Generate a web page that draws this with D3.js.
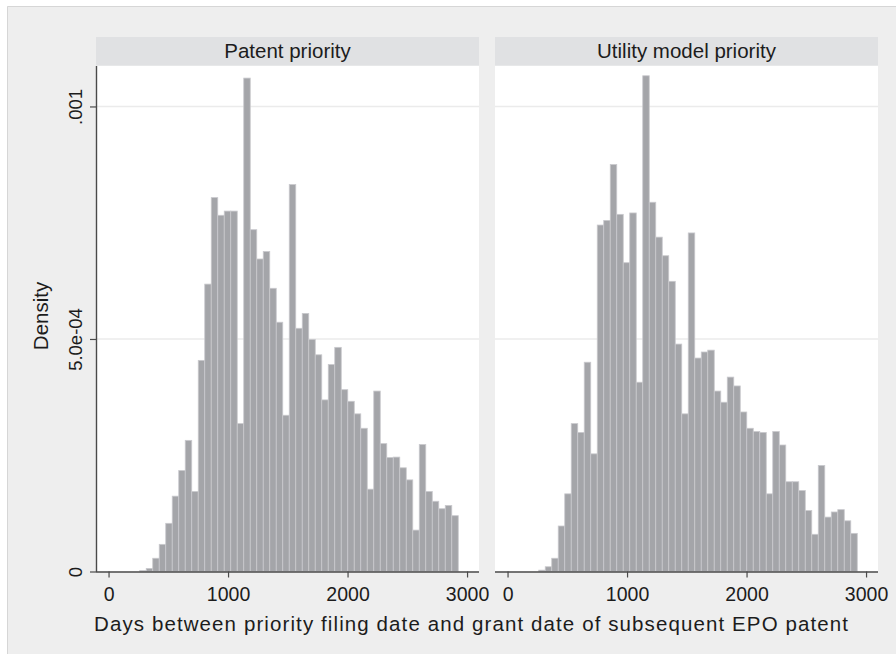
<!DOCTYPE html>
<html>
<head>
<meta charset="utf-8">
<script src="https://cdn.jsdelivr.net/npm/d3@7"></script>
<style>
  html, body { margin: 0; padding: 0; background: #ffffff; }
  svg { display: block; font-family: "Liberation Sans", Arial, Helvetica, sans-serif; }
</style>
</head>
<body>
<svg id="chart" width="896" height="654"></svg>
<script>
// Histogram bins (days), shared by both panels
const binStart = 261;
const binWidth = 54.4;

const panelTitles = ["Patent priority", "Utility model priority"];

// Density per bin, patent priority filings
const patentDensity = [
  0.0000020, 0.0000066, 0.0000285, 0.0000584, 0.0001036, 0.000162, 0.000217,
  0.000282, 0.000172, 0.000454, 0.000618, 0.000804, 0.000766, 0.000775,
  0.000775, 0.000318, 0.001061, 0.000735, 0.000672, 0.000688, 0.000609,
  0.000536, 0.000336, 0.000832, 0.000523, 0.000555, 0.000499, 0.000466,
  0.000369, 0.000445, 0.000482, 0.000391, 0.000366, 0.000339, 0.000308,
  0.000177, 0.000388, 0.000275, 0.000245, 0.000246, 0.000223, 0.000197,
  0.000089, 0.000273, 0.000172, 0.000151, 0.000135, 0.000142, 0.000120
];

// Density per bin, utility model priority filings
const utilityDensity = [
  0.0000029, 0.0000102, 0.0000285, 0.0000978, 0.000167, 0.000318, 0.000299,
  0.000450, 0.000253, 0.000745, 0.000755, 0.000875, 0.000768, 0.000664,
  0.000771, 0.000407, 0.001066, 0.000794, 0.000719, 0.000679, 0.000624,
  0.000489, 0.000339, 0.000728, 0.000459, 0.000472, 0.000476, 0.000388,
  0.000364, 0.000418, 0.000399, 0.000343, 0.000308, 0.000301, 0.000299,
  0.000167, 0.000301, 0.000272, 0.000193, 0.000193, 0.000174, 0.000131,
  0.000080, 0.000228, 0.000117, 0.000128, 0.000133, 0.000109, 0.000082
];

const xTickValues = [0, 1000, 2000, 3000];
const yTickValues = [0, 0.0005, 0.001];
const yTickLabels = ["0", "5.0e-04", ".001"];

const xTitle = "Days between priority filing date and grant date of subsequent EPO patent";
const yTitle = "Density";

const svg = d3.select("#chart");
const W = 896, H = 654;

// outer graph region
svg.append("rect").attr("x", 0).attr("y", 0).attr("width", W).attr("height", H).attr("fill", "#ffffff");
svg.append("rect").attr("x", 7).attr("y", 6).attr("width", W - 7).attr("height", H - 6)
  .attr("fill", "#eeeeee");
svg.append("path").attr("d", `M7.5,${H}V6.5H${W}`).attr("fill", "none")
  .attr("stroke", "#d6d6d6").attr("stroke-width", 1);

const plotTop = 66, plotBottom = 571.5, panelW = 383;
const panelLefts = [96, 495];
const headerTop = 37, headerBottom = 65.5;

const y = d3.scaleLinear().domain([0, 0.001087]).range([plotBottom, plotTop]);

const series = [patentDensity, utilityDensity];

panelLefts.forEach((left, p) => {
  const x = d3.scaleLinear().domain([-105, 3100]).range([left, left + panelW]);
  const g = svg.append("g");

  // subtitle strip
  g.append("rect").attr("x", left).attr("y", headerTop)
    .attr("width", panelW).attr("height", headerBottom - headerTop).attr("fill", "#e0e1e3");
  g.append("text").attr("x", left + panelW / 2).attr("y", 58)
    .attr("text-anchor", "middle").attr("font-size", 20.5).attr("fill", "#1c1c1c")
    .text(panelTitles[p]);

  // plot region
  g.append("rect").attr("x", left).attr("y", plotTop)
    .attr("width", panelW).attr("height", plotBottom - plotTop).attr("fill", "#ffffff");

  // horizontal gridlines
  g.selectAll("line.grid").data(yTickValues.filter(v => v > 0)).join("line")
    .attr("class", "grid")
    .attr("x1", left).attr("x2", left + panelW)
    .attr("y1", d => y(d)).attr("y2", d => y(d))
    .attr("stroke", "#ebebeb").attr("stroke-width", 1.5);

  // bars
  const bins = series[p].map((v, i) => ({
    x0: binStart + i * binWidth,
    x1: binStart + (i + 1) * binWidth,
    v
  }));
  g.selectAll("rect.bar").data(bins).join("rect")
    .attr("class", "bar")
    .attr("x", d => x(d.x0))
    .attr("width", d => x(d.x1) - x(d.x0))
    .attr("y", d => y(d.v))
    .attr("height", d => y(0) - y(d.v))
    .attr("fill", "#a4a5a9")
    .attr("stroke", "#c9c9cd")
    .attr("stroke-width", 0.8);

  // x axis
  const xAxis = d3.axisBottom(x).tickValues(xTickValues).tickFormat(d3.format("d"))
    .tickSize(6).tickPadding(10);
  const ax = g.append("g").attr("transform", `translate(0,${plotBottom})`).call(xAxis);
  ax.select(".domain").attr("d", `M${left},0.5H${left + panelW}`)
    .attr("stroke", "#4a4a4a").attr("stroke-width", 1.4);
  ax.selectAll(".tick line").attr("stroke", "#4a4a4a").attr("stroke-width", 1.2);
  ax.selectAll(".tick text").attr("font-size", 19.5).attr("fill", "#1c1c1c")
    .attr("font-family", "Liberation Sans, Arial, sans-serif").attr("dy", "0.71em");
});

// y axis on the first panel
const yAxis = d3.axisLeft(y).tickValues(yTickValues)
  .tickFormat((d, i) => yTickLabels[i]).tickSize(6).tickPadding(0);
const ay = svg.append("g").attr("transform", `translate(${panelLefts[0]},0)`).call(yAxis);
ay.select(".domain").attr("d", `M0.5,${plotTop}V${plotBottom + 0.5}`)
  .attr("stroke", "#4a4a4a").attr("stroke-width", 1.4);
ay.selectAll(".tick line").attr("stroke", "#4a4a4a").attr("stroke-width", 1.2);
ay.selectAll(".tick text")
  .attr("x", null).attr("dy", null)
  .attr("text-anchor", "middle")
  .attr("font-size", 18.5).attr("fill", "#1c1c1c")
  .attr("font-family", "Liberation Sans, Arial, sans-serif")
  .attr("transform", "translate(-14,0) rotate(-90)");

// axis titles
svg.append("text")
  .attr("x", 471).attr("y", 631)
  .attr("text-anchor", "middle").attr("font-size", 20.5).attr("fill", "#1c1c1c")
  .attr("textLength", 754).attr("lengthAdjust", "spacing")
  .text(xTitle);

svg.append("text")
  .attr("transform", "translate(48,316) rotate(-90)")
  .attr("text-anchor", "middle").attr("font-size", 20.5).attr("fill", "#1c1c1c")
  .text(yTitle);
</script>
</body>
</html>
